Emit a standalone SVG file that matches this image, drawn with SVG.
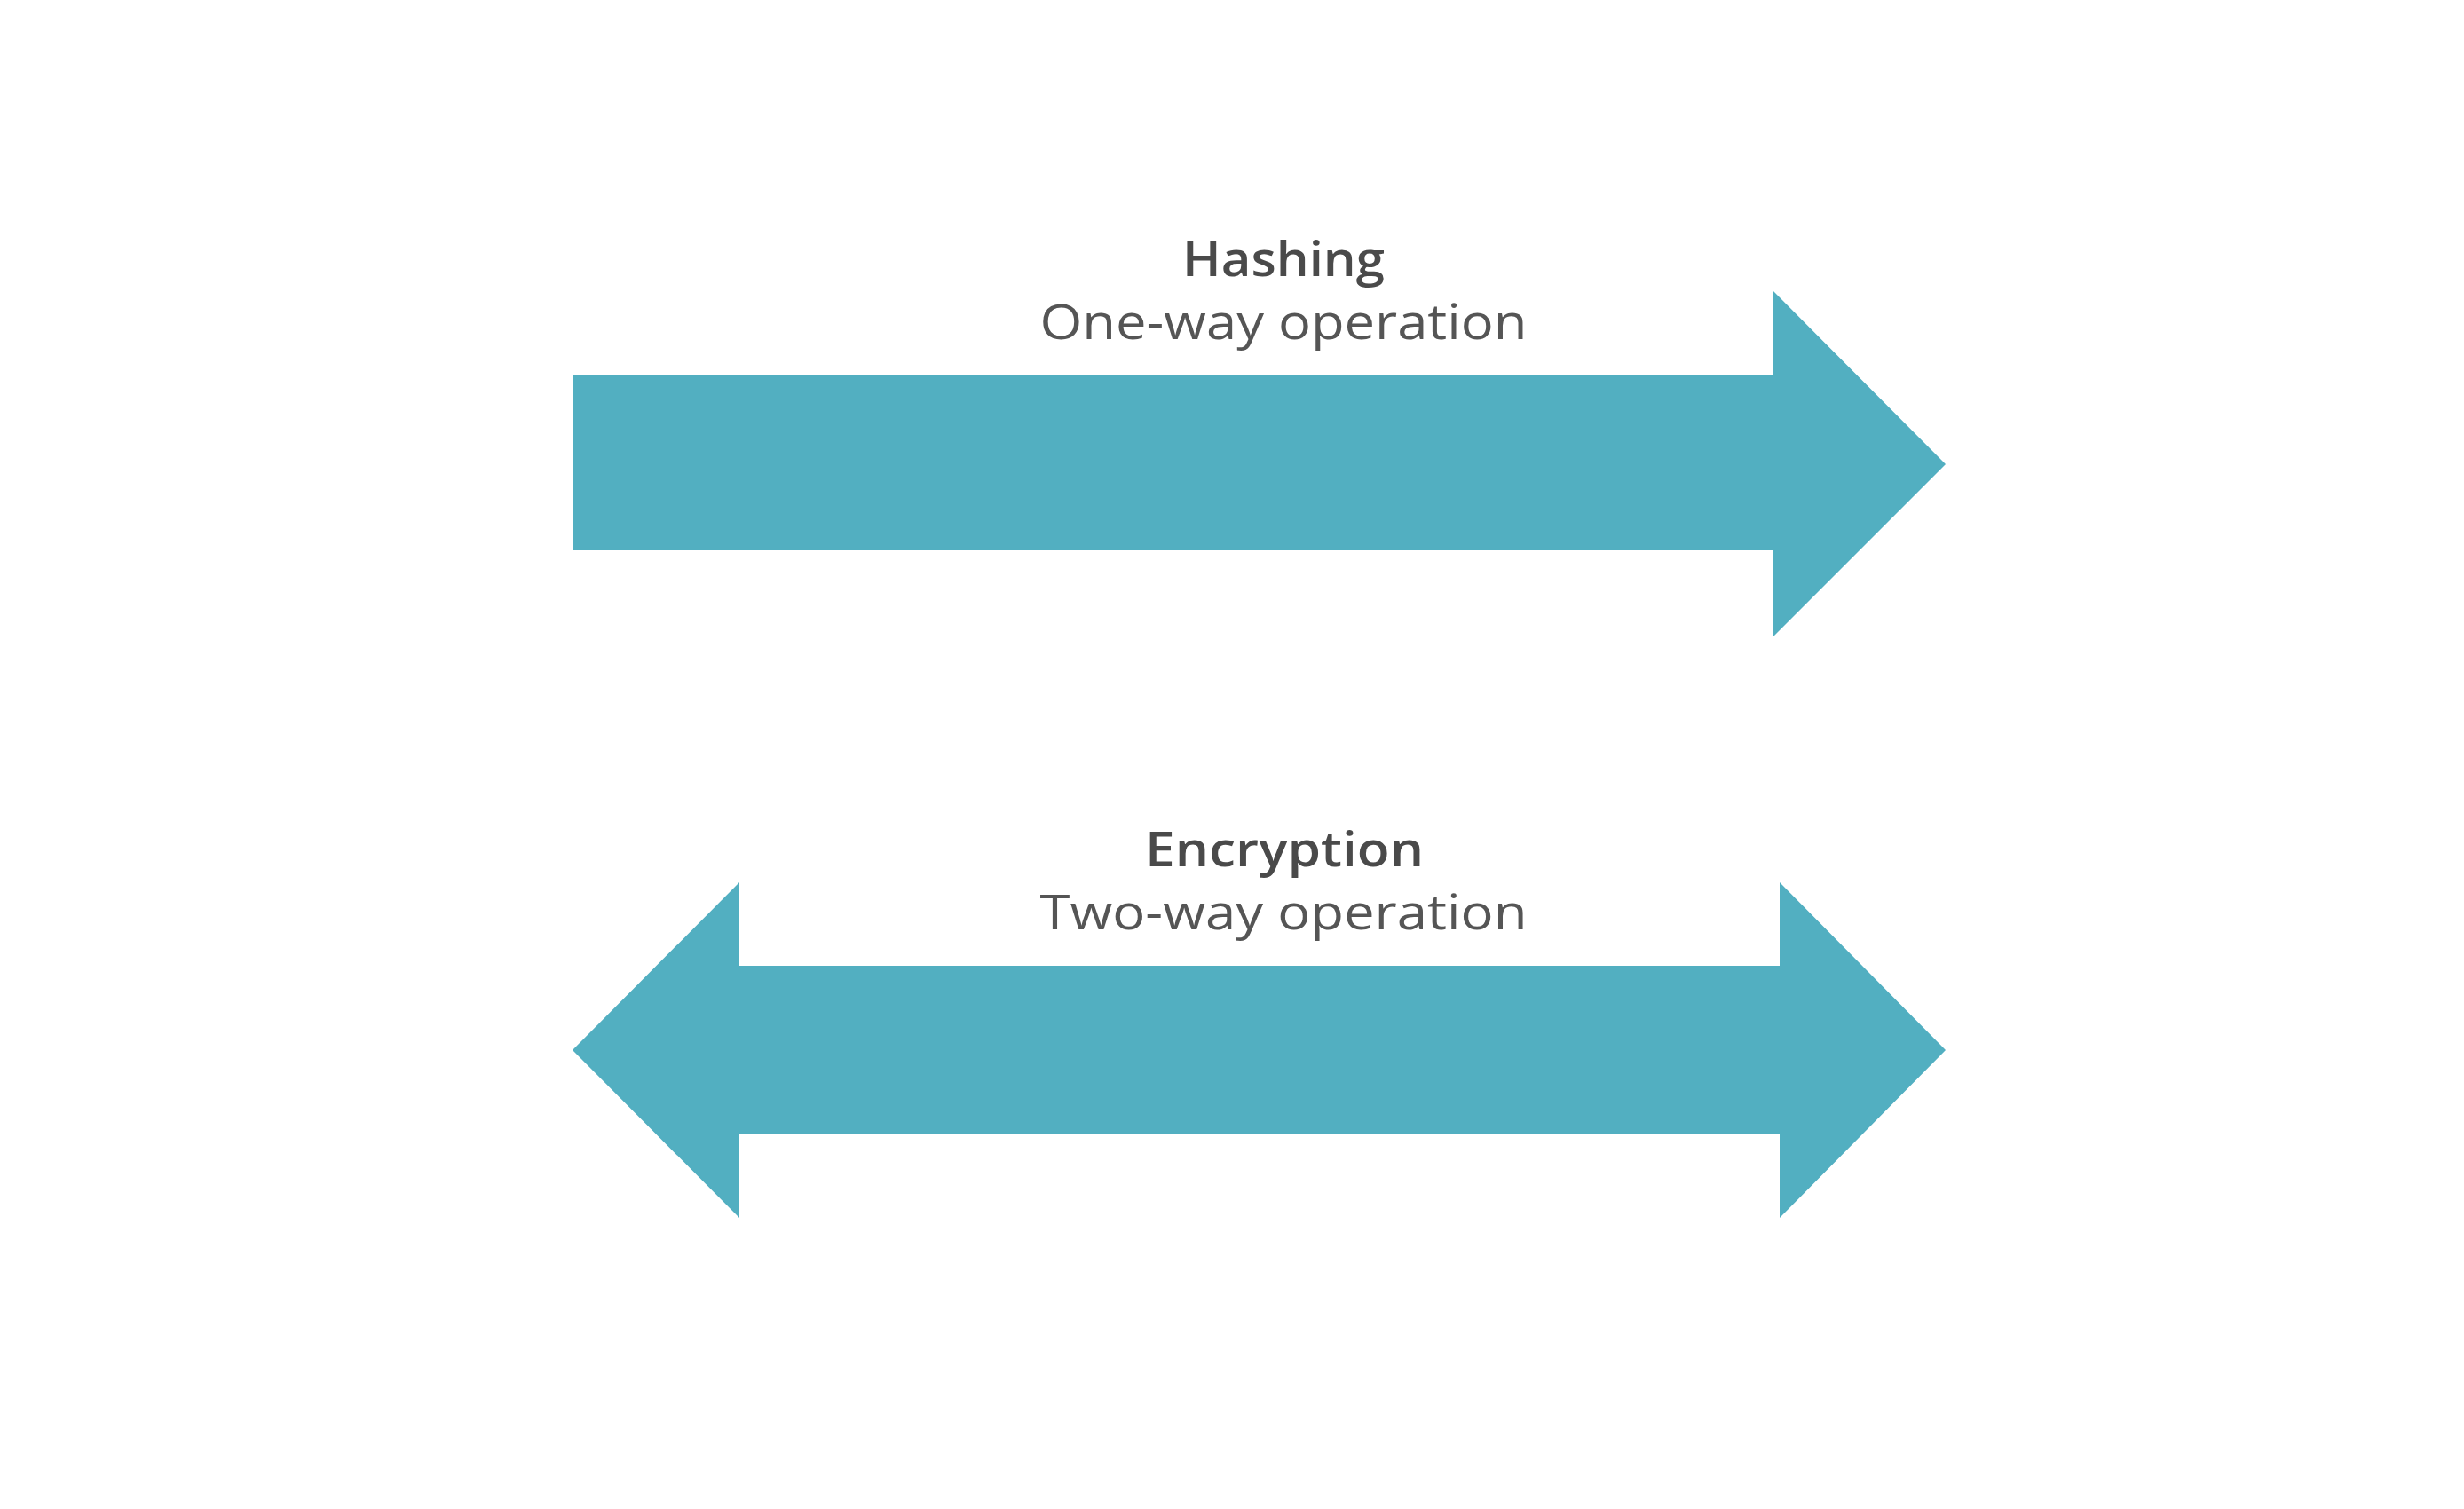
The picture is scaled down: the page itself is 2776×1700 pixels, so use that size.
<svg xmlns="http://www.w3.org/2000/svg" width="2776" height="1700" viewBox="0 0 2776 1700">
<style>
.arrow{fill:#52afc1}
.title{font-family:"Open Sans","Noto Sans","Liberation Sans",sans-serif;font-weight:600;font-size:54px;fill:#4a4a4a;text-anchor:middle}
.sub{font-family:"Open Sans","Noto Sans","Liberation Sans",sans-serif;font-weight:400;font-size:54px;fill:#555555;text-anchor:middle}
</style>
<rect width="2776" height="1700" fill="#ffffff"/>
<g id="hashing">
<text class="title" x="1446" y="311" textLength="228" lengthAdjust="spacingAndGlyphs">Hashing</text>
<text class="sub" x="1446" y="382" textLength="549" lengthAdjust="spacingAndGlyphs">One-way operation</text>
</g>
<g id="encryption">
<text class="title" x="1447" y="976" textLength="314" lengthAdjust="spacingAndGlyphs">Encryption</text>
<text class="sub" x="1446" y="1047" textLength="549" lengthAdjust="spacingAndGlyphs">Two-way operation</text>
</g>
<g id="connectors">
<polygon class="arrow" points="645,423 1997,423 1997,327 2192,523 1997,718 1997,620 645,620"/>
<polygon class="arrow" points="645,1183 833,994 833,1088 2005,1088 2005,994 2192,1183 2005,1372 2005,1277 833,1277 833,1372"/>
</g>
</svg>
